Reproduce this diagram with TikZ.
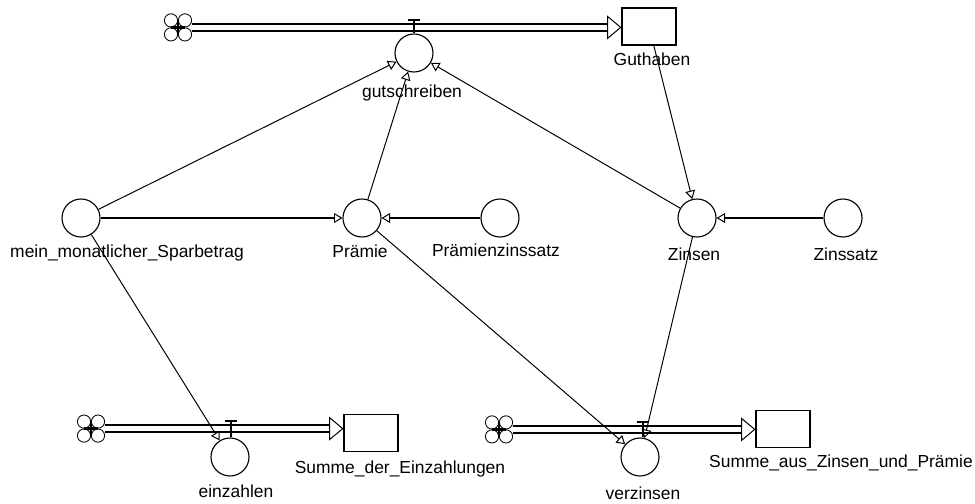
\documentclass[tikz,border=0pt]{standalone}
\usepackage{fontspec}
\setmainfont{Liberation Sans}
\usetikzlibrary{arrows.meta,shapes.geometric}
\tikzset{
  converter/.style={draw, circle, line width=0.8pt, minimum size=0.95cm, inner sep=0pt},
  stock/.style={draw, rectangle, line width=1pt, minimum width=1.35cm, minimum height=0.925cm, inner sep=0pt},
  caption/.style={font=\fontsize{12.4}{14}\selectfont, inner sep=0pt},
  pipe/.style={line width=1.4pt, double=white, double distance=3.5pt},
  pipehead/.style={draw, fill=white, isosceles triangle, isosceles triangle stretches, line width=0.7pt, minimum width=0.55cm, minimum height=0.33cm, inner sep=0pt, anchor=apex},
  valve/.style={line width=1.2pt, -{Bar[width=9pt,line width=1.2pt]}},
  link/.style={line width=0.7pt, -{Triangle[open,length=6pt,width=7pt]}},
  thicklink/.style={line width=1.4pt, -{Triangle[open,length=6pt,width=7pt,line width=0.7pt]}}
}
\begin{document}
\begin{tikzpicture}
\useasboundingbox (0,0) rectangle (24.375,12.575);
\foreach \name/\pos in {cloudA/{4.45,11.89},cloudB/{2.275,1.86},cloudC/{12.475,1.84}}{
  \node[minimum size=0.7cm, inner sep=0pt] (\name) at (\pos) {};
  \foreach \dx/\dy in {-1/-1,-1/1,1/-1,1/1}
    \draw[line width=0.6pt] (\name) ++(\dx*0.175,\dy*0.175) circle (0.165);
  \draw[line width=2pt] (\name.center) ++(-0.17,0) -- ++(0.34,0);
  \draw[line width=2pt] (\name.center) ++(0,-0.17) -- ++(0,0.34);
}
\node[stock] (guthaben) at (16.225,11.9125) {};
\node[stock] (summeein) at (9.275,1.75) {};
\node[stock] (summeaus) at (19.575,1.85) {};
\node[pipehead] (headA) at (15.55,11.89) {};
\node[pipehead] (headB) at (8.6,1.86) {};
\node[pipehead] (headC) at (18.9,1.84) {};
\draw[pipe] (cloudA.east) -- (headA.west);
\draw[pipe] (cloudB.east) -- (headB.west);
\draw[pipe] (cloudC.east) -- (headC.west);
\node[converter] (gutschreiben) at (10.35,11.25) {};
\node[converter] (praemie) at (9.05,7.125) {};
\node[converter] (praemiensatz) at (12.5,7.125) {};
\node[converter] (sparbetrag) at (2.025,7.125) {};
\node[converter] (zinsen) at (17.425,7.125) {};
\node[converter] (zinssatz) at (21.075,7.125) {};
\node[converter] (einzahlen) at (5.75,1.15) {};
\node[converter] (verzinsen) at (16.0,1.15) {};
\coordinate (barA) at (10.35,12.1);
\coordinate (barB) at (5.775,2.075);
\coordinate (barC) at (16.075,2.05);
\draw[valve] (gutschreiben) -- (barA);
\draw[valve] (barB |- einzahlen.north) -- (barB);
\draw[valve] (barC |- verzinsen.north) -- (barC);
\draw[link] (sparbetrag) -- (gutschreiben);
\draw[link] (praemie) -- (gutschreiben);
\draw[link] (zinsen) -- (gutschreiben);
\draw[link] (guthaben) -- (zinsen);
\draw[link] (zinsen) -- (verzinsen);
\draw[link] (praemie) -- (verzinsen);
\draw[link] (sparbetrag) -- (einzahlen);
\draw[thicklink] (sparbetrag) -- (praemie);
\draw[thicklink] (praemiensatz) -- (praemie);
\draw[thicklink] (zinssatz) -- (zinsen);
\node[caption] (lblgutschreiben) at (10.3,10.25) {gutschreiben};
\node[caption] (lblguthaben) at (16.3,11.1) {Guthaben};
\node[caption] (lblsparbetrag) at (3.175,6.25) {mein\_monatlicher\_Sparbetrag};
\node[caption] (lblpraemie) at (9.0,6.3) {Prämie};
\node[caption] (lblpraemiensatz) at (12.4,6.325) {Prämienzinssatz};
\node[caption] (lblzinsen) at (17.35,6.225) {Zinsen};
\node[caption] (lblzinssatz) at (21.15,6.225) {Zinssatz};
\node[caption] (lbleinzahlen) at (5.9,0.3) {einzahlen};
\node[caption] (lblverzinsen) at (16.075,0.25) {verzinsen};
\node[caption] (lblsummeein) at (10.0,0.85) {Summe\_der\_Einzahlungen};
\node[caption] (lblsummeaus) at (21.025,1.0) {Summe\_aus\_Zinsen\_und\_Prämie};
\end{tikzpicture}
\end{document}
